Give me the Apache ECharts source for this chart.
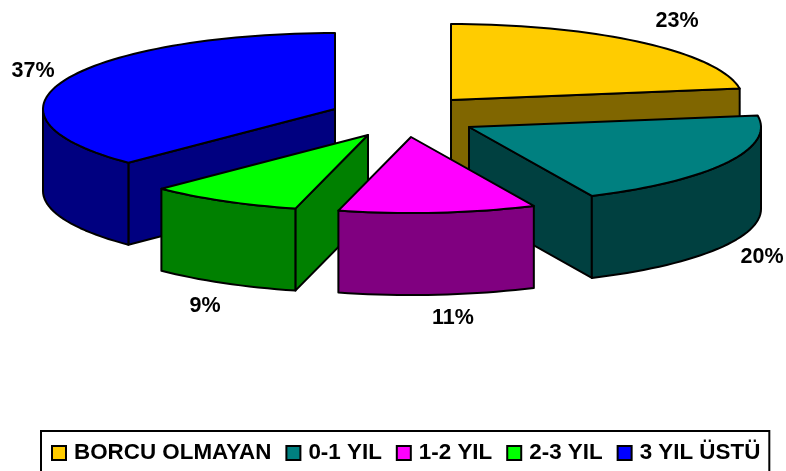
<!DOCTYPE html>
<html><head><meta charset="utf-8">
<style>html,body{margin:0;padding:0;background:#fff}#c{width:786px;height:471px}</style>
<script src="https://cdn.jsdelivr.net/npm/echarts@6/dist/echarts.min.js"></script>
</head><body><div id="c"></div>
<script>
const categories = ['BORCU OLMAYAN', '0-1 YIL', '1-2 YIL', '2-3 YIL', '3 YIL ÜSTÜ'];
const shares = [22.6, 20.49, 10.91, 8.51, 37.49];
const topColors = ['#FFCC00', '#008080', '#FF00FF', '#00FF00', '#0000FF'];
const sideColors = ['#806600', '#004040', '#800080', '#008000', '#000080'];
const apexX = [451, 469, 411, 368, 335];
const apexY = [100, 127, 137, 135, 109];
const labelX = [677, 762, 453, 205, 33];
const labelY = [21, 257, 318, 306, 71];
const paintOrder = [0, 4, 1, 3, 2];
const RX = 292, RY = 76, DEPTH = 82, FONT = 'Liberation Sans';

const total = shares.reduce((a, b) => a + b, 0);
const startOf = i => shares.slice(0, i).reduce((a, b) => a + b, 0) / total * 360;
const rad = d => d * Math.PI / 180;
const line = { stroke: '#000', lineWidth: 2, lineJoin: 'round' };

function arcPts(i, a0, a1, dy) {
  const pts = [], n = Math.max(2, Math.ceil((a1 - a0) / 2));
  for (let k = 0; k <= n; k++) {
    const a = rad(a0 + (a1 - a0) * k / n);
    pts.push([apexX[i] + RX * Math.sin(a), apexY[i] - RY * Math.cos(a) + dy]);
  }
  return pts;
}
function poly(points, fill) {
  return { type: 'polygon', shape: { points }, style: Object.assign({ fill }, line) };
}
function radialFace(i, a, fill) {
  const p = arcPts(i, a, a, 0)[0], c = [apexX[i], apexY[i]];
  return poly([c, p, [p[0], p[1] + DEPTH], [c[0], c[1] + DEPTH]], fill);
}
function makeRender(i) {
  return function (params, api) {
    const a0 = startOf(i), a1 = a0 + api.value(0) / total * 360;
    const kids = [];
    if (-Math.cos(rad(a0 - 90)) > 1e-6) kids.push(radialFace(i, a0, sideColors[i]));
    if (-Math.cos(rad(a1 + 90)) > 1e-6) kids.push(radialFace(i, a1, sideColors[i]));
    const f0 = Math.max(a0, 90), f1 = Math.min(a1, 270);
    if (f1 > f0) {
      kids.push(poly(arcPts(i, f0, f1, 0).concat(arcPts(i, f0, f1, DEPTH).reverse()), sideColors[i]));
    }
    kids.push(poly([[apexX[i], apexY[i]]].concat(arcPts(i, a0, a1, 0)), topColors[i]));
    kids.push({
      type: 'text', x: labelX[i], y: labelY[i],
      style: { text: Math.round(api.value(0)) + '%', fontFamily: FONT, fontWeight: 'bold', fontSize: 21.5,
               fill: '#000', align: 'center', verticalAlign: 'middle' }
    });
    return { type: 'group', children: kids };
  };
}
const chart = echarts.init(document.getElementById('c'), null, { renderer: 'canvas' });
chart.setOption({
  animation: false,
  backgroundColor: '#fff',
  legend: {
    data: categories, left: 41, top: 431, orient: 'horizontal',
    width: 730, padding: [11, 9, 11, 10], itemGap: 14, itemWidth: 14, itemHeight: 14,
    borderColor: '#000', borderWidth: 2, icon: 'rect',
    itemStyle: { borderColor: '#000', borderWidth: 2 },
    textStyle: { fontFamily: FONT, fontWeight: 'bold', fontSize: 22.4, color: '#000', padding: [0, 0, 0, 3] }
  },
  series: paintOrder.map(i => ({
    type: 'custom', name: categories[i], coordinateSystem: 'none',
    itemStyle: { color: topColors[i] }, silent: true,
    data: [[shares[i]]], renderItem: makeRender(i)
  }))
});
</script></body></html>
